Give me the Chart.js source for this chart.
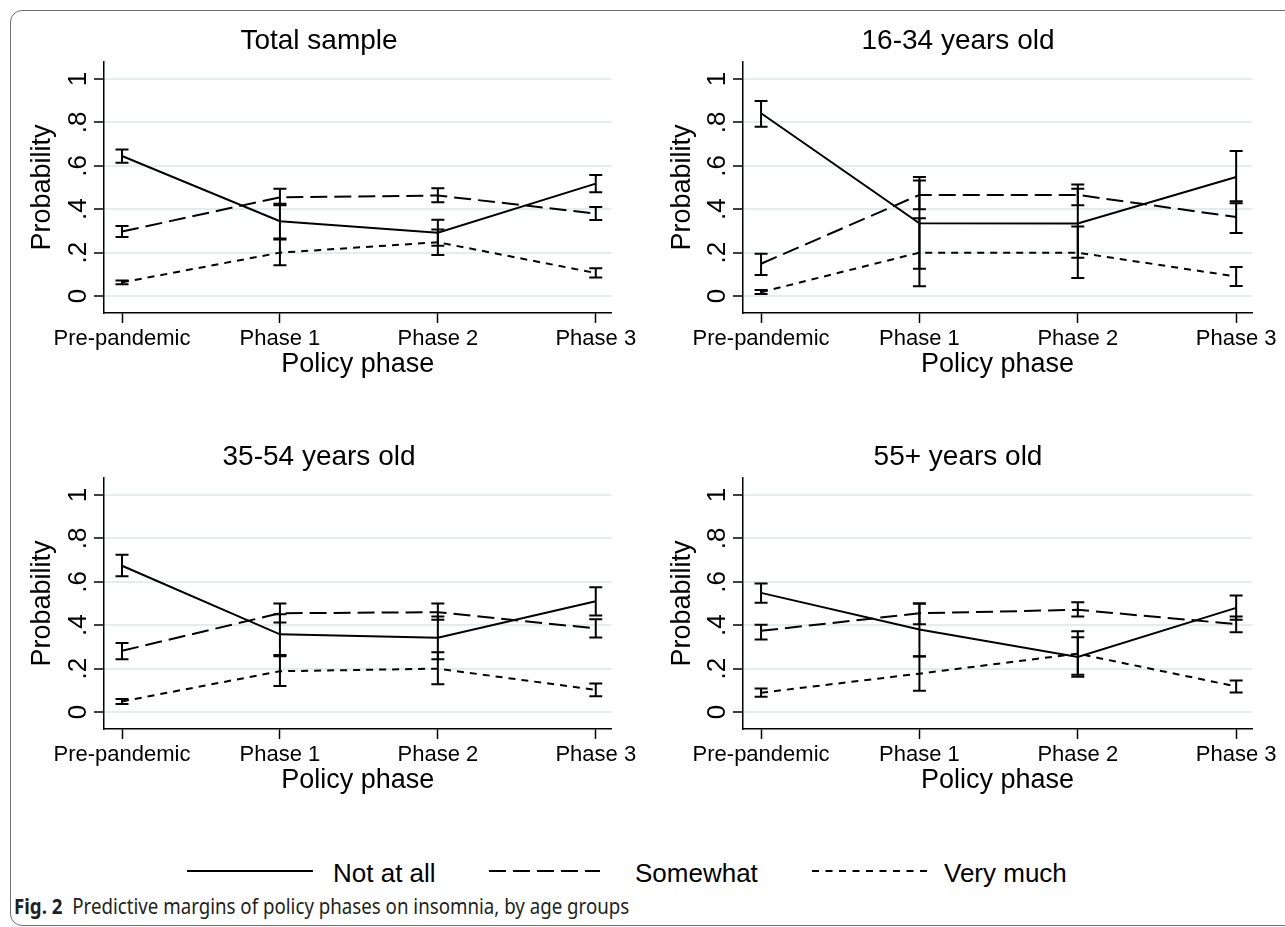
<!DOCTYPE html>
<html lang="en">
<head>
<meta charset="UTF-8">
<title>Predictive margins of policy phases on insomnia, by age groups</title>
<script src="https://cdn.jsdelivr.net/npm/chart.js@4.4.1/dist/chart.umd.min.js"></script>
<style>
    body {
        margin: 0;
        width: 1285px;
        height: 927px;
        overflow: hidden;
        background: #fff;
        position: relative;
        font-family: 'Liberation Sans', Arial, sans-serif;
    }
    .frame {
        position: absolute;
        left: 10px; top: 10px;
        width: 1320px; height: 916px;
        box-sizing: border-box;
        border: 1.5px solid #6e6e6e;
        border-radius: 12px;
    }
    canvas { position: absolute; }
    .key { position: absolute; top: 858px; font-size: 26px; line-height: 30px; color: #000; white-space: nowrap; }
    .keyline { position: absolute; top: 866px; }
    #caption {
        position: absolute; left: 14px; top: 893px;
        font-family: 'Noto Sans', sans-serif; font-size: 21px; line-height: 26px;
        color: #231f20; white-space: nowrap; transform-origin: 0 50%;
    }
    #caption b { margin-right: 11px; }
</style>
</head>
<body>
<div class="frame"></div>

<canvas id="p1" width="640" height="416" style="left:0;top:0"></canvas>
<canvas id="p2" width="645" height="416" style="left:640px;top:0"></canvas>
<canvas id="p3" width="640" height="416" style="left:0;top:416px"></canvas>
<canvas id="p4" width="645" height="416" style="left:640px;top:416px"></canvas>

<svg class="keyline" style="left:187px" width="126" height="10"><line x1="0" y1="5" x2="126" y2="5" stroke="#000" stroke-width="2"/></svg>
<div class="key" style="left:333px">Not at all</div>
<svg class="keyline" style="left:489px" width="111" height="10"><line x1="0" y1="5" x2="111" y2="5" stroke="#000" stroke-width="2" stroke-dasharray="17 7"/></svg>
<div class="key" style="left:635px">Somewhat</div>
<svg class="keyline" style="left:812px" width="121" height="10"><line x1="0" y1="5" x2="121" y2="5" stroke="#000" stroke-width="2" stroke-dasharray="7 6.5"/></svg>
<div class="key" style="left:944px">Very much</div>

<div id="caption"><b>Fig. 2</b>Predictive margins of policy phases on insomnia, by age groups</div>

<script>
    // categories / ticks
    const phases = ['Pre-pandemic', 'Phase 1', 'Phase 2', 'Phase 3'];
    const yTicks = [0, 0.2, 0.4, 0.6, 0.8, 1];
    const yTickLabels = ['0', '.2', '.4', '.6', '.8', '1'];
    const seriesNames = ['Not at all', 'Somewhat', 'Very much'];

    // Total sample
    const totalNotAtAll = [0.645, 0.345, 0.292, 0.518];
    const totalNotAtAllCI = [[0.614, 0.675], [0.265, 0.425], [0.232, 0.352], [0.478, 0.557]];
    const totalSomewhat = [0.297, 0.455, 0.463, 0.380];
    const totalSomewhatCI = [[0.272, 0.323], [0.418, 0.494], [0.432, 0.497], [0.350, 0.410]];
    const totalVeryMuch = [0.063, 0.200, 0.248, 0.106];
    const totalVeryMuchCI = [[0.054, 0.072], [0.142, 0.260], [0.189, 0.307], [0.086, 0.128]];

    // 16-34 years old
    const youngNotAtAll = [0.842, 0.335, 0.334, 0.548];
    const youngNotAtAllCI = [[0.780, 0.898], [0.126, 0.548], [0.176, 0.494], [0.428, 0.668]];
    const youngSomewhat = [0.149, 0.466, 0.466, 0.364];
    const youngSomewhatCI = [[0.097, 0.195], [0.400, 0.532], [0.418, 0.514], [0.291, 0.437]];
    const youngVeryMuch = [0.018, 0.200, 0.200, 0.090];
    const youngVeryMuchCI = [[0.009, 0.028], [0.045, 0.358], [0.083, 0.320], [0.046, 0.134]];

    // 35-54 years old
    const midNotAtAll = [0.674, 0.358, 0.342, 0.510];
    const midNotAtAllCI = [[0.625, 0.725], [0.263, 0.451], [0.243, 0.440], [0.445, 0.575]];
    const midSomewhat = [0.282, 0.455, 0.460, 0.385];
    const midSomewhatCI = [[0.243, 0.318], [0.412, 0.500], [0.425, 0.500], [0.343, 0.427]];
    const midVeryMuch = [0.049, 0.188, 0.200, 0.102];
    const midVeryMuchCI = [[0.037, 0.060], [0.120, 0.257], [0.128, 0.275], [0.073, 0.131]];

    // 55+ years old
    const oldNotAtAll = [0.549, 0.380, 0.254, 0.480];
    const oldNotAtAllCI = [[0.503, 0.592], [0.257, 0.500], [0.163, 0.345], [0.425, 0.537]];
    const oldSomewhat = [0.374, 0.455, 0.471, 0.405];
    const oldSomewhatCI = [[0.334, 0.402], [0.405, 0.500], [0.440, 0.506], [0.368, 0.440]];
    const oldVeryMuch = [0.089, 0.177, 0.269, 0.118];
    const oldVeryMuchCI = [[0.071, 0.108], [0.098, 0.256], [0.172, 0.372], [0.090, 0.145]];

    Chart.defaults.font.family = "'Liberation Sans', Arial, sans-serif";
    Chart.defaults.color = '#000';

    // confidence intervals with caps, drawn through the chart's own scales
    const errorBars = {
        id: 'errorBars',
        afterDatasetsDraw(chart) {
            let ctx = chart.ctx, xs = chart.scales.x, ys = chart.scales.y;
            ctx.save();
            ctx.strokeStyle = '#000';
            ctx.lineWidth = 2;
            chart.data.datasets.forEach(ds => {
                ds.ci.forEach((c, i) => {
                    let px = xs.getPixelForValue(i);
                    let lo = ys.getPixelForValue(c[0]);
                    let hi = ys.getPixelForValue(c[1]);
                    ctx.beginPath();
                    ctx.moveTo(px, lo); ctx.lineTo(px, hi);
                    ctx.moveTo(px - 6.5, lo); ctx.lineTo(px + 6.5, lo);
                    ctx.moveTo(px - 6.5, hi); ctx.lineTo(px + 6.5, hi);
                    ctx.stroke();
                });
            });
            ctx.restore();
        }
    };

    // stata style vertical y labels (chart.js won't rotate y ticks)
    const rotatedYLabels = {
        id: 'rotatedYLabels',
        afterDraw(chart) {
            let ctx = chart.ctx, ys = chart.scales.y;
            ctx.save();
            ctx.fillStyle = '#000';
            ctx.font = "26px 'Liberation Sans', Arial, sans-serif";
            ctx.textAlign = 'center';
            ctx.textBaseline = 'alphabetic';
            yTicks.forEach((v, i) => {
                ctx.save();
                ctx.translate(ys.right - 18, ys.getPixelForValue(v));
                ctx.rotate(-Math.PI / 2);
                ctx.fillText(yTickLabels[i], 0, 0);
                ctx.restore();
            });
            ctx.restore();
        }
    };

    function toPoints(arr) {
        return arr.map((v, i) => ({ x: i, y: v }));
    }

    function drawPanel(id, title, na, naCI, sw, swCI, vm, vmCI, padLeft, padRight, yWidth, yTitlePad) {
        let lineBase = { borderColor: '#000', borderWidth: 2, pointRadius: 0, tension: 0, fill: false };
        new Chart(document.getElementById(id), {
            type: 'line',
            data: {
                datasets: [
                    Object.assign({ label: seriesNames[0], data: toPoints(na), ci: naCI }, lineBase),
                    Object.assign({ label: seriesNames[1], data: toPoints(sw), ci: swCI, borderDash: [17, 7] }, lineBase),
                    Object.assign({ label: seriesNames[2], data: toPoints(vm), ci: vmCI, borderDash: [7, 6] }, lineBase)
                ]
            },
            options: {
                responsive: false,
                animation: false,
                events: [],
                layout: { padding: { left: padLeft, right: padRight, top: 0, bottom: 0 } },
                plugins: {
                    legend: { display: false },
                    tooltip: { enabled: false },
                    title: {
                        display: true, text: title, color: '#000',
                        font: { size: 28, weight: 'normal' },
                        padding: { top: 24, bottom: 4.4 }
                    }
                },
                scales: {
                    x: {
                        type: 'linear', min: -0.114, max: 3.1,
                        afterBuildTicks: s => { s.ticks = phases.map((p, i) => ({ value: i })); },
                        afterFit: s => { s.height = 103; },
                        ticks: {
                            callback: v => phases[v], autoSkip: false,
                            maxRotation: 0, minRotation: 0, padding: 3,
                            font: { size: 22 }, color: '#000'
                        },
                        grid: { drawOnChartArea: false, drawTicks: true, tickLength: 10, tickColor: '#000', tickWidth: 1.5 },
                        border: { color: '#000', width: 1.5 },
                        title: { display: true, text: 'Policy phase', color: '#000', font: { size: 27 }, padding: { top: 0, bottom: 35 } }
                    },
                    y: {
                        min: -0.078, max: 1.078,
                        afterBuildTicks: s => { s.ticks = yTicks.map(v => ({ value: v })); },
                        afterFit: s => { s.width = yWidth; },
                        ticks: { display: false },
                        grid: { color: '#e3eded', lineWidth: 2, drawTicks: true, tickLength: 10, tickColor: '#000', tickWidth: 1.5 },
                        border: { color: '#000', width: 1.5 },
                        title: { display: true, text: 'Probability', color: '#000', font: { size: 27 }, padding: { top: yTitlePad, bottom: 0 } }
                    }
                }
            },
            plugins: [errorBars, rotatedYLabels]
        });
    }

    drawPanel('p1', 'Total sample', totalNotAtAll, totalNotAtAllCI, totalSomewhat, totalSomewhatCI, totalVeryMuch, totalVeryMuchCI, 26, 28, 78, 0);
    drawPanel('p2', '16-34 years old', youngNotAtAll, youngNotAtAllCI, youngSomewhat, youngSomewhatCI, youngVeryMuch, youngVeryMuchCI, 24, 33, 79, 2);
    drawPanel('p3', '35-54 years old', midNotAtAll, midNotAtAllCI, midSomewhat, midSomewhatCI, midVeryMuch, midVeryMuchCI, 26, 28, 78, 0);
    drawPanel('p4', '55+ years old', oldNotAtAll, oldNotAtAllCI, oldSomewhat, oldSomewhatCI, oldVeryMuch, oldVeryMuchCI, 24, 33, 79, 2);

    // squeeze the caption to the narrow journal font width
    let cap = document.getElementById('caption');
    cap.style.transform = 'scaleX(' + (615 / cap.offsetWidth) + ')';
</script>
</body>
</html>
